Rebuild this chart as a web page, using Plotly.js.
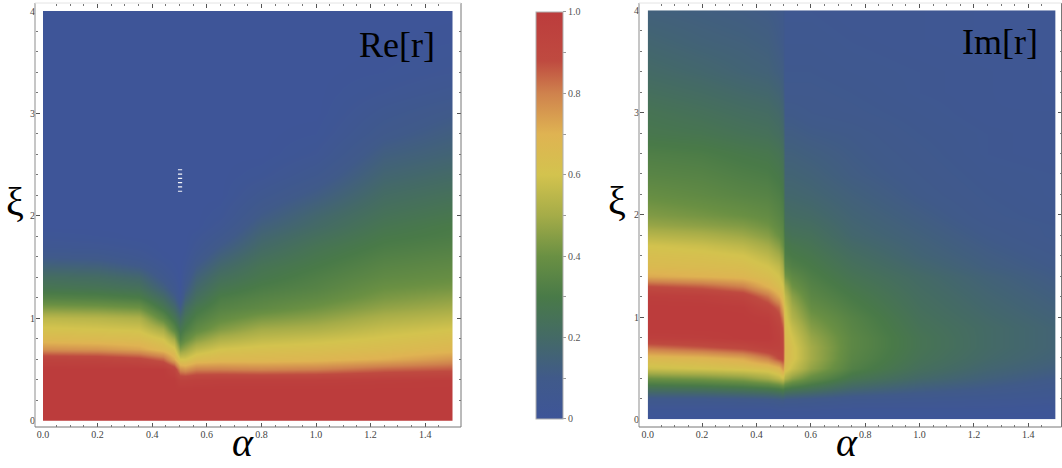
<!DOCTYPE html>
<html><head><meta charset="utf-8">
<script src="https://cdn.plot.ly/plotly-3.0.1.min.js"></script>
<style>html,body{margin:0;padding:0;background:#fff}#chart{width:1062px;height:468px}</style>
</head><body><div id="chart"></div>
<script>
// ---- grid (xi rows) ----
const XI = [0,0.1,0.2,0.3,0.4,0.5,0.6,0.7,0.8,0.9,1.0,1.1,1.2,1.3,1.4,1.5,1.6,1.7,1.8,1.9,2.0,2.2,2.4,2.6,2.8,3.0,3.2,3.4,3.7,4.0];

// ---- Re[r] : alpha columns ----
const RE_ALPHA = [0, 0.2, 0.35, 0.44, 0.48, 0.5, 0.52, 0.56, 0.65, 0.8, 1.0, 1.25, 1.5];
const re_a000 = [1,1,1,1,1,1,0.94,0.77,0.67,0.61,0.55,0.44,0.34,0.27,0.22,0.16,0.1,0.05,0.02,0,0,0,0,0,0,0,0,0,0,0];
const re_a020 = [1,1,1,1,1,1,0.93,0.76,0.66,0.6,0.54,0.43,0.33,0.26,0.21,0.15,0.09,0.04,0.01,0,0,0,0,0,0,0,0,0,0,0];
const re_a035 = [1,1,1,1,1,1,0.9,0.73,0.65,0.59,0.52,0.41,0.31,0.24,0.18,0.11,0.05,0.02,0,0,0,0,0,0,0,0,0,0,0,0];
const re_a044 = [1,1,1,1,1,1,0.84,0.67,0.6,0.5,0.37,0.28,0.21,0.14,0.08,0.04,0.01,0,0,0,0,0,0,0,0,0,0,0,0,0];
const re_a048 = [1,1,1,1,1,0.93,0.72,0.62,0.5,0.36,0.27,0.2,0.13,0.07,0.03,0.01,0,0,0,0,0,0,0,0,0,0,0,0,0,0];
const re_a050 = [1,1,1,1,0.95,0.78,0.6,0.45,0.33,0.27,0.2,0.12,0.05,0.01,0,0,0,0,0,0,0,0,0,0,0,0,0,0,0,0];
const re_a052 = [1,1,1,1,0.95,0.76,0.6,0.48,0.38,0.31,0.26,0.21,0.15,0.1,0.06,0.03,0.01,0,0,0,0,0,0,0,0,0,0,0,0,0];
const re_a056 = [1,1,1,1,0.96,0.8,0.65,0.55,0.45,0.37,0.32,0.28,0.23,0.19,0.15,0.11,0.07,0.04,0.02,0,0,0,0,0,0,0,0,0,0,0];
const re_a065 = [1,1,1,1,0.97,0.8,0.67,0.6,0.52,0.44,0.38,0.34,0.31,0.27,0.23,0.19,0.15,0.11,0.07,0.04,0.02,0,0,0,0,0,0,0,0,0];
const re_a080 = [1,1,1,1,0.97,0.79,0.67,0.62,0.56,0.5,0.43,0.37,0.34,0.31,0.28,0.26,0.23,0.2,0.17,0.14,0.11,0.06,0.02,0,0,0,0,0,0,0];
const re_a100 = [1,1,1,1,0.97,0.8,0.68,0.63,0.58,0.52,0.46,0.41,0.37,0.34,0.32,0.3,0.28,0.26,0.23,0.2,0.18,0.12,0.07,0.03,0.01,0,0,0,0,0];
const re_a125 = [1,1,1,1,0.98,0.84,0.71,0.65,0.61,0.57,0.52,0.47,0.43,0.4,0.37,0.35,0.33,0.31,0.29,0.27,0.25,0.21,0.17,0.13,0.09,0.06,0.03,0.01,0,0];
const re_a150 = [1,1,1,1,0.99,0.86,0.76,0.68,0.64,0.6,0.55,0.5,0.46,0.42,0.39,0.37,0.35,0.33,0.31,0.3,0.28,0.24,0.2,0.16,0.13,0.1,0.06,0.03,0.01,0];

// ---- Im[r] : alpha columns ----
const IM_ALPHA = [0, 0.2, 0.35, 0.44, 0.48, 0.495, 0.505, 0.53, 0.6, 0.75, 1.0, 1.25, 1.5];
const im_a000 = [0,0.02,0.08,0.24,0.4,0.58,0.66,0.82,0.97,1,1,1,0.98,0.88,0.72,0.66,0.63,0.6,0.54,0.48,0.44,0.39,0.35,0.32,0.28,0.26,0.23,0.2,0.17,0.14];
const im_a020 = [0,0.02,0.08,0.25,0.42,0.6,0.68,0.86,0.98,1,1,1,0.97,0.85,0.7,0.65,0.62,0.58,0.52,0.46,0.42,0.37,0.34,0.31,0.27,0.24,0.21,0.18,0.15,0.13];
const im_a035 = [0,0.02,0.09,0.27,0.45,0.62,0.72,0.9,1,1,1,0.99,0.93,0.8,0.68,0.64,0.6,0.55,0.49,0.44,0.4,0.35,0.32,0.29,0.25,0.22,0.19,0.16,0.14,0.12];
const im_a044 = [0,0.02,0.1,0.29,0.5,0.64,0.8,0.95,1,1,0.98,0.92,0.82,0.7,0.64,0.6,0.55,0.5,0.45,0.41,0.38,0.34,0.31,0.28,0.24,0.21,0.18,0.15,0.13,0.11];
const im_a048 = [0,0.03,0.11,0.31,0.55,0.68,0.88,0.95,0.96,0.94,0.9,0.84,0.72,0.64,0.6,0.56,0.5,0.45,0.4,0.37,0.35,0.32,0.29,0.26,0.22,0.19,0.16,0.13,0.11,0.1];
const im_a0495 = [0,0.03,0.12,0.33,0.58,0.76,0.9,0.92,0.9,0.86,0.8,0.72,0.65,0.6,0.55,0.5,0.45,0.4,0.37,0.35,0.33,0.3,0.27,0.24,0.2,0.17,0.14,0.12,0.1,0.09];
const im_a0505 = [0,0.03,0.1,0.3,0.52,0.64,0.67,0.68,0.66,0.64,0.62,0.6,0.56,0.5,0.42,0.36,0.32,0.3,0.27,0.24,0.22,0.18,0.16,0.14,0.12,0.1,0.08,0.07,0.06,0.05];
const im_a053 = [0,0.03,0.1,0.28,0.46,0.58,0.62,0.62,0.6,0.57,0.53,0.5,0.46,0.41,0.37,0.33,0.3,0.28,0.25,0.23,0.21,0.18,0.16,0.14,0.12,0.1,0.08,0.07,0.06,0.05];
const im_a060 = [0,0.03,0.09,0.25,0.38,0.47,0.5,0.5,0.48,0.45,0.42,0.39,0.36,0.34,0.32,0.3,0.28,0.26,0.24,0.22,0.2,0.17,0.15,0.13,0.11,0.09,0.08,0.07,0.06,0.05];
const im_a075 = [0,0.02,0.07,0.18,0.27,0.33,0.35,0.36,0.36,0.35,0.34,0.32,0.3,0.28,0.26,0.24,0.22,0.2,0.18,0.17,0.16,0.14,0.12,0.11,0.1,0.08,0.07,0.06,0.05,0.04];
const im_a100 = [0,0.02,0.06,0.13,0.19,0.23,0.25,0.26,0.26,0.25,0.24,0.23,0.22,0.21,0.2,0.18,0.16,0.15,0.14,0.13,0.12,0.1,0.09,0.08,0.07,0.06,0.05,0.05,0.04,0.04];
const im_a125 = [0,0.02,0.05,0.1,0.14,0.17,0.19,0.2,0.2,0.2,0.19,0.18,0.17,0.16,0.15,0.13,0.12,0.11,0.1,0.09,0.08,0.07,0.06,0.05,0.05,0.04,0.04,0.04,0.03,0.03];
const im_a150 = [0,0.01,0.04,0.07,0.1,0.13,0.15,0.16,0.16,0.16,0.15,0.14,0.13,0.12,0.11,0.1,0.09,0.08,0.07,0.07,0.06,0.05,0.05,0.04,0.04,0.04,0.03,0.03,0.03,0.03];

// small white plotting artefact in the Re[r] panel
const ART_ALPHA = [0.502,0.502,0.502,0.502,0.502,0.502];
const ART_XI = [2.45,2.408,2.366,2.324,2.282,2.24];

// tick labels
const CB_TICKVALS = [0,0.1,0.2,0.3,0.4,0.5,0.6,0.7,0.8,0.9,1.0];
const CB_TICKTEXT = ['0','','0.2','','0.4','','0.6','','0.8','','1.0'];

const RE_COLS = [re_a000,re_a020,re_a035,re_a044,re_a048,re_a050,re_a052,re_a056,re_a065,re_a080,re_a100,re_a125,re_a150];
const IM_COLS = [im_a000,im_a020,im_a035,im_a044,im_a048,im_a0495,im_a0505,im_a053,im_a060,im_a075,im_a100,im_a125,im_a150];
const toZ = cols => XI.map((_, r) => cols.map(c => c[r]));

const CS = [[0,'#3e5598'],[0.1,'#405a8a'],[0.2,'#446a66'],[0.3,'#497a48'],[0.4,'#6a9043'],
            [0.5,'#a5ac48'],[0.6,'#d3c34e'],[0.7,'#dfb352'],[0.8,'#cf824d'],[0.88,'#bf4a40'],[1,'#bc3c3c']];

const W = 1062, H = 468;
const px = v => v / W, py = v => 1 - v / H;

const traces = [
  {type:'heatmap', x:RE_ALPHA, y:XI, z:toZ(RE_COLS), zmin:0, zmax:1, zsmooth:'best',
   colorscale:CS, hoverinfo:'skip', xaxis:'x', yaxis:'y',
   colorbar:{x:px(536), xanchor:'left', y:py(215.4), yanchor:'middle', len:407, lenmode:'pixels',
     thickness:27, thicknessmode:'pixels', xpad:0, ypad:0, outlinewidth:1, outlinecolor:'#b0b0b0',
     tickmode:'array', tickvals:CB_TICKVALS, ticktext:CB_TICKTEXT, ticks:'outside', ticklen:3,
     tickcolor:'#999', tickfont:{family:'Liberation Serif', size:10, color:'#555'}}},
  {type:'heatmap', x:IM_ALPHA, y:XI, z:toZ(IM_COLS), zmin:0, zmax:1, zsmooth:'best',
   colorscale:CS, showscale:false, hoverinfo:'skip', xaxis:'x2', yaxis:'y2'},
  {type:'scatter', mode:'markers', x:ART_ALPHA, y:ART_XI, xaxis:'x', yaxis:'y', hoverinfo:'skip',
   marker:{symbol:'line-ew', size:3, line:{width:1.2, color:'rgba(255,255,255,0.95)'}}},
  {type:'scatter', x:[], y:[], xaxis:'x3', yaxis:'y3', hoverinfo:'skip'},
  {type:'scatter', x:[], y:[], xaxis:'x4', yaxis:'y4', hoverinfo:'skip'}
];

const tickFont = {family:'Liberation Serif', size:10, color:'#444'};
const xBase = (dom, pos, side, labels) => ({
  domain:dom, range:[0,1.5], anchor:'free', position:pos, side:side,
  ticks:'inside', ticklen:4, tickcolor:'#555', tickwidth:1, dtick:0.2, tick0:0, tickformat:'.1f',
  minor:{dtick:0.05, ticks:'inside', ticklen:2, tickcolor:'#777'},
  showticklabels:labels, tickfont:tickFont, showgrid:false, zeroline:false, showline:false, fixedrange:true
});
const yBase = (dom, pos, side, labels) => ({
  domain:dom, range:[0,4], anchor:'free', position:pos, side:side,
  ticks:'inside', ticklen:4, tickcolor:'#555', tickwidth:1, dtick:1, tick0:0,
  minor:{dtick:0.2, ticks:'inside', ticklen:2, tickcolor:'#777'},
  showticklabels:labels, tickfont:tickFont, showgrid:false, zeroline:false, showline:false, fixedrange:true
});

const LDX = [px(43), px(452.5)], LDY = [py(420.7), py(11)];
const RDX = [px(647.7), px(1055.5)], RDY = [py(419.3), py(10.3)];

const x3 = xBase(LDX, py(3), 'top', false); x3.overlaying = 'x';
const y3 = yBase(LDY, px(461), 'right', false); y3.overlaying = 'y';
const x4 = xBase(RDX, py(3), 'top', false); x4.overlaying = 'x2';
const y4 = yBase(RDY, px(1061.5), 'right', false); y4.overlaying = 'y2';

const frame = (x0, x1, y0, y1) => [
  {type:'line', xref:'paper', yref:'paper', x0:px(x0), x1:px(x0), y0:py(y0), y1:py(y1), line:{color:'#a0a0a0', width:1.2}},
  {type:'line', xref:'paper', yref:'paper', x0:px(x0), x1:px(x1), y0:py(y1), y1:py(y1), line:{color:'#777', width:1}},
  {type:'line', xref:'paper', yref:'paper', x0:px(x1), x1:px(x1), y0:py(y0), y1:py(y1), line:{color:'#777', width:1}},
  {type:'line', xref:'paper', yref:'paper', x0:px(x0), x1:px(x1), y0:py(y0), y1:py(y0), line:{color:'#e4e4e4', width:1}}
];

const ann = (text, x, y, size, italic, xanchor, yanchor) => ({
  text:text, xref:'paper', yref:'paper', x:x, y:y, xanchor:xanchor||'center', yanchor:yanchor||'middle',
  showarrow:false, font:{family:'Liberation Serif', size:size, color:'#000', style: italic ? 'italic' : 'normal'}
});

const layout = {
  width:W, height:H, margin:{l:0,r:0,t:0,b:0}, paper_bgcolor:'#fff', plot_bgcolor:'#fff',
  showlegend:false,
  xaxis: xBase(LDX, py(427), 'bottom', true),
  yaxis: yBase(LDY, px(35), 'left', true),
  xaxis2: xBase(RDX, py(427), 'bottom', true),
  yaxis2: yBase(RDY, px(639), 'left', true),
  xaxis3: x3, yaxis3: y3, xaxis4: x4, yaxis4: y4,
  shapes: [...frame(35, 461, 3, 427), ...frame(639, 1061.5, 3, 427)],
  annotations: [
    ann('Re[r]', px(437), py(44.5), 36, false, 'right'),
    ann('Im[r]', px(1040), py(42), 36, false, 'right'),
    ann('α', px(243), py(467), 40, true, 'center', 'bottom'),
    ann('α', px(846.5), py(467), 40, true, 'center', 'bottom'),
    ann('ξ', px(15), py(201), 40, false),
    ann('ξ', px(617), py(200), 40, false)
  ]
};

Plotly.newPlot('chart', traces, layout, {displayModeBar:false, staticPlot:true});
</script></body></html>
